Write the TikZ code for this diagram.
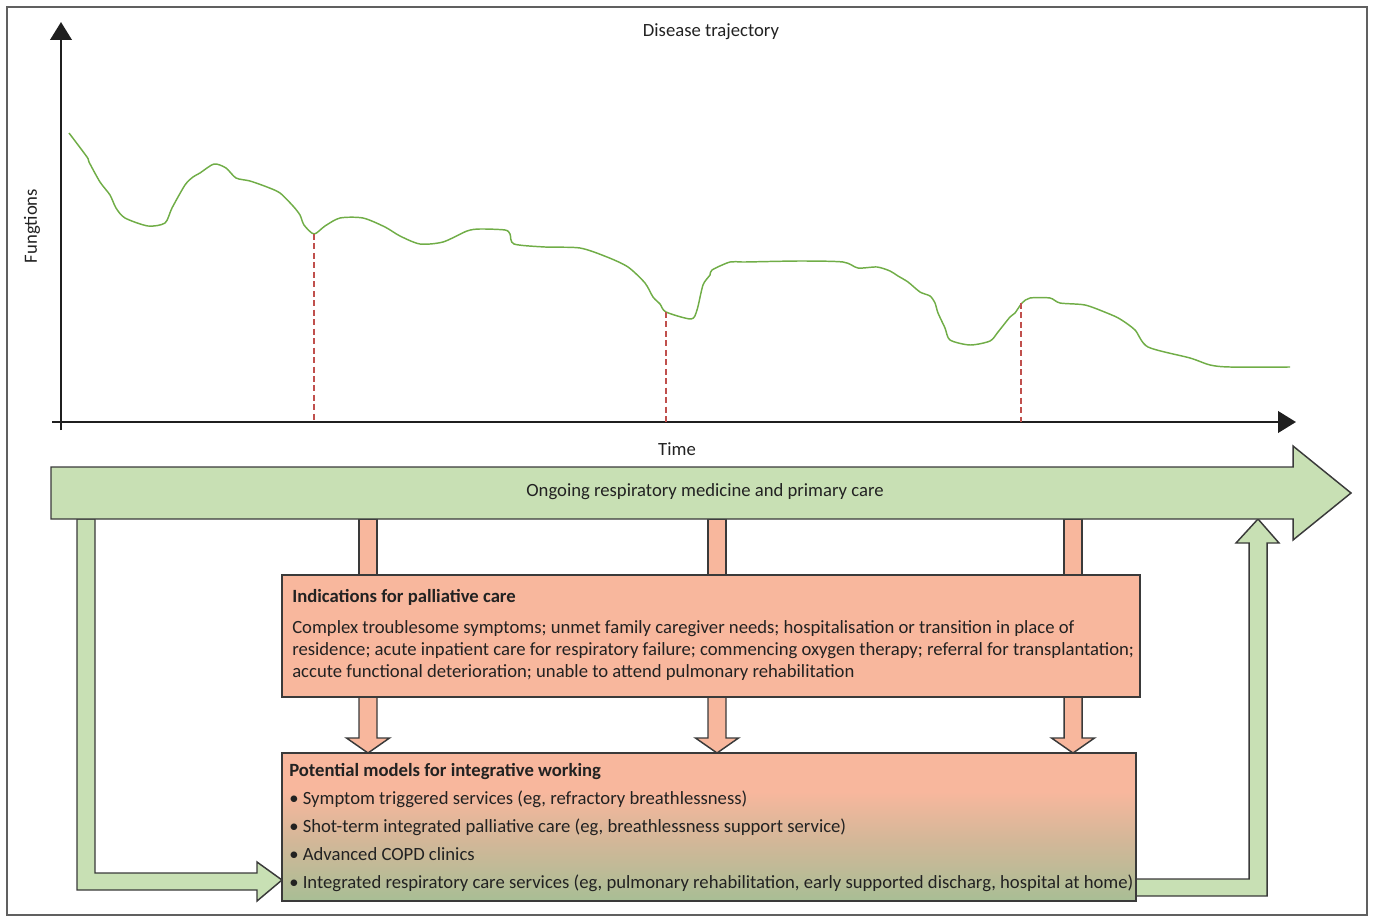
\documentclass[tikz,border=0pt]{standalone}
\usepackage{fontspec}
\setmainfont{Carlito}
\usetikzlibrary{arrows.meta}
\definecolor{salmon}{HTML}{F8B79D}
\definecolor{lgreen}{HTML}{C8E0B4}
\definecolor{dgreen}{HTML}{A8BE95}
\definecolor{tanc}{HTML}{D2B798}
\definecolor{curvegreen}{HTML}{70AD47}
\definecolor{dashred}{HTML}{C0504D}
\definecolor{edge}{HTML}{3A3A3A}
\definecolor{txt}{HTML}{222222}
\pgfdeclareverticalshading{modelshade}{100bp}{color(0bp)=(dgreen); color(25bp)=(dgreen); color(45bp)=(tanc); color(62bp)=(salmon); color(100bp)=(salmon)}
\begin{document}
\begin{tikzpicture}[x=0.75pt,y=-0.75pt,
  every node/.style={font=\fontsize{14}{17}\selectfont, text=txt, inner sep=0pt},
  axis/.style={line width=2.2pt, draw=black!88, -{Triangle[length=13.5pt,width=16pt]}},
  dashline/.style={draw=dashred, line width=2.1pt, dash pattern=on 4.5pt off 2.6pt},
  greenarrow/.style={fill=lgreen, draw=edge, line width=1.1pt, line join=miter},
  salmonarrow/.style={fill=salmon, draw=edge, line width=1.1pt, line join=miter},
  boxnode/.style={draw=edge, line width=1.1pt, minimum width=#1},
  bold/.style={font=\fontsize{14}{17}\selectfont\bfseries},
  lbl/.style={anchor=base west}]
\useasboundingbox (0,0) rectangle (1373,917);
\draw[gray!75!black, line width=1pt] (7,7) rectangle (1367,915);

% axes
\coordinate (ytop) at (61,22);
\coordinate (ybot) at (61,430);
\coordinate (xl) at (52,422);
\coordinate (xr) at (1296,422);
\draw[axis] (ybot) -- (ytop);
\draw[axis] (xl) -- (xr);
\node (title) at (711,32) {Disease trajectory};
\node[rotate=90] (ylab) at (32,226) {Fungtions};
\node (xlab) at (677,449) {Time};

% trajectory curve
\draw[curvegreen, line width=1.1pt, line join=round] plot[smooth, tension=0.45] coordinates {
(69,133) (87,157) (89,162) (100,182) (110,195) (116,208) (125,218) (148,226) (165,223)
(172,208) (185,185) (193,177) (200,173) (214,164) (226,168) (236,178) (250,181) (267,187)
(280,193) (293,206) (300,215) (304,225) (314,234) (325,226) (340,218) (363,218) (385,227)
(400,236) (420,244) (443,242) (467,231) (480,229) (505,230) (510,234) (514,244) (545,247)
(580,248) (607,257) (628,267) (645,283) (653,297) (660,304) (666,312) (691,319) (697,310)
(703,285) (710,275) (712,270) (730,262) (745,262) (800,261) (843,262) (858,268) (877,267)
(890,271) (898,276) (908,282) (920,292) (930,296) (935,303) (938,313) (945,328) (950,340)
(970,345) (990,341) (998,332) (1010,317) (1015,313) (1022,303) (1030,298) (1050,298)
(1060,303) (1085,305) (1107,313) (1120,319) (1135,330) (1148,347) (1190,358) (1210,365)
(1230,367) (1290,367)};

% event markers
\coordinate (e1) at (314,234);
\coordinate (e2) at (666,312);
\coordinate (e3) at (1021,303);
\foreach \e in {e1,e2,e3} \draw[dashline] (\e) -- (\e |- xl);

% left elbow arrow (ongoing care -> models)
\draw[greenarrow] (95,519) -- (95,873) -- (257,873) -- (257,862) -- (282,880) -- (257,901)
  -- (257,890) -- (77,890) -- (77,519) -- cycle;
% right elbow arrow (models -> ongoing care)
\draw[greenarrow] (1136,879) -- (1249,879) -- (1249,543) -- (1236,543) -- (1258,519)
  -- (1279,543) -- (1267,543) -- (1267,896) -- (1136,896) -- cycle;

% connectors ongoing -> indications
\foreach \c in {368,717,1073}
  \draw[salmonarrow] (\c-9,519) rectangle (\c+9,575);

% ongoing care big arrow
\draw[greenarrow] (51,467) -- (1293,467) -- (1293,446) -- (1351,493) -- (1293,540)
  -- (1293,519) -- (51,519) -- cycle;
\node (ongoing) at (705,492) {Ongoing respiratory medicine and primary care};

% down arrows indications -> models
\foreach \c in {368,717,1073}
  \draw[salmonarrow] (\c-9,697) -- (\c-9,738) -- (\c-21.5,738) -- (\c,753) -- (\c+21.5,738)
    -- (\c+9,738) -- (\c+9,697);

% indications box
\node[boxnode=643.5pt, fill=salmon, minimum height=91.5pt] (ind) at (711,636) {};
\node[lbl, bold] (indt) at (292,602) {Indications for palliative care};
\node[lbl] (ind1) at (292,633) {Complex troublesome symptoms; unmet family caregiver needs; hospitalisation or transition in place of};
\node[lbl] (ind2) at (292,655) {residence; acute inpatient care for respiratory failure; commencing oxygen therapy; referral for transplantation;};
\node[lbl] (ind3) at (292,677) {accute functional deterioration; unable to attend pulmonary rehabilitation};

% models box
\shade[shading=modelshade] (282,753) rectangle (1136,901);
\node[boxnode=640.5pt, minimum height=111pt] (mod) at (709,827) {};
\node[lbl, bold] (modt) at (289,776) {Potential models for integrative working};
\node[lbl] (mod1) at (289,804) {• Symptom triggered services (eg, refractory breathlessness)};
\node[lbl] (mod2) at (289,832) {• Shot-term integrated palliative care (eg, breathlessness support service)};
\node[lbl] (mod3) at (289,860) {• Advanced COPD clinics};
\node[lbl] (mod4) at (289,888) {• Integrated respiratory care services (eg, pulmonary rehabilitation, early supported discharg, hospital at home)};
\end{tikzpicture}
\end{document}
